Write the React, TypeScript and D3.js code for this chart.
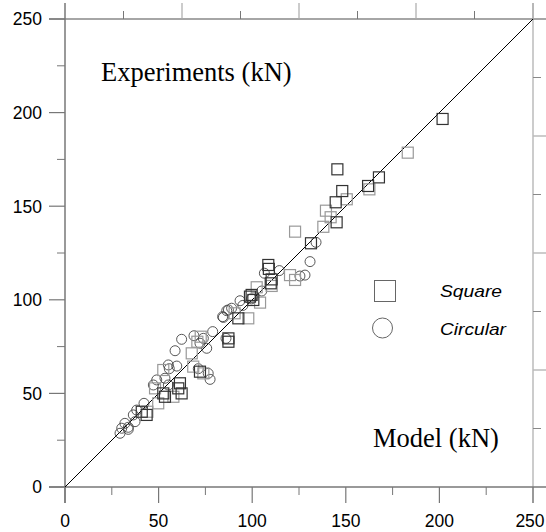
import React from "react";
import * as d3 from "d3";

const leftTicks = [0, 50, 100, 150, 200, 250];
const leftMinor = [25, 75, 125, 175, 225];
const bottomTicks = [0, 50, 100, 150, 200, 250];
const bottomMinor = [25, 75, 125, 175, 225];
const topTicks = [62.5, 125, 187.5, 250];
const topMinor = [31.25, 93.75, 156.25, 218.75];
const rightTicks = [62.5, 125, 187.5];
const rightMinor = [31.25, 93.75, 156.25, 218.75];

const squaresDark: [number, number][] = [
  [201.7, 196.6], [145.5, 169.7], [161.9, 160.8], [148.1, 158.1], [144.6, 152.1],
  [145.1, 141.4], [131.4, 130.2], [108.6, 118.6], [108.9, 116.5], [110.4, 110.9],
  [109.9, 108.8], [99.7, 102.6], [98.8, 101.7], [100.6, 99.9], [92.6, 90.1],
  [87.3, 79.4], [87.3, 77.6], [72.1, 61.6], [61.4, 55.4], [60.5, 52.7],
  [62.3, 50], [53.4, 48.2], [52.5, 50], [41, 40.2], [43.6, 38.5], [167.7, 165.4],
];
const squaresLight: [number, number][] = [
  [183.1, 178.6], [162.6, 159], [150.5, 153.7], [139.4, 147.6], [141.9, 144.1],
  [138, 139], [122.9, 136.4], [120.2, 113.2], [122.9, 110.6], [110.4, 107.4],
  [102.4, 106.7], [104.2, 98.5], [97.9, 90.1], [72.5, 80.3], [70.7, 77.6],
  [67.7, 71.4], [52.5, 62.5], [68.5, 64.3], [73.9, 60.7], [48.1, 52.7],
  [57.9, 48.2], [49.8, 44.7], [44, 40.2], [90.6, 92.8],
];
const circles: [number, number][] = [
  [134.1, 130.7], [130.9, 120.4], [106.5, 114.2], [114.5, 115.6], [125.5, 112.7],
  [128.2, 113.2], [105.1, 104.7], [93.5, 99.5], [89, 95.5], [86.4, 94.2],
  [84.6, 90.6], [78.9, 83], [86, 79.4], [73.9, 79.4], [84.2, 91], [87.3, 94.6],
  [68.9, 80.8], [62.3, 78.9], [72.1, 76.8], [75.7, 74.1], [58.8, 72.8],
  [55.2, 65.2], [59.7, 64.6], [55.7, 63.2], [53.4, 58.1], [71.2, 63.2],
  [76.5, 60.7], [77.5, 57.5], [49, 57.2], [47.2, 54.5], [55.2, 54.5],
  [42.2, 44.7], [38.3, 41.1], [36.5, 38.5], [32, 34], [37.4, 34.9],
  [33.8, 31.9], [30.3, 31.4], [29.4, 28.7], [33.8, 30.8], [99.6, 100.5], [95, 97],
];
const diagonal: [number, number][] = [[0, 0], [250, 250]];

export default function App() {
  const x = d3.scaleLinear().domain([0, 250]).range([65, 533]);
  const y = d3.scaleLinear().domain([0, 250]).range([487, 19]);
  const line = d3.line<[number, number]>().x((d) => x(d[0])).y((d) => y(d[1]));
  const sq = 11;
  const num = { fontFamily: "Liberation Sans, Arial, sans-serif", fontSize: 17.5 };
  const serif = "Liberation Serif, Times New Roman, serif";
  return (
    <svg width={546} height={532} style={{ position: "absolute", left: 0, top: 0, background: "#fff" }}>
      {/* right axis */}
      <line x1={533} x2={533} y1={3} y2={503} stroke="#ccc" strokeWidth={2} />
      {rightTicks.map((t) => (
        <line key={"rt" + t} x1={533} x2={546} y1={y(t)} y2={y(t)} stroke="#bbb" strokeWidth={1.5} />
      ))}
      {rightMinor.map((t) => (
        <line key={"rm" + t} x1={533} x2={541} y1={y(t)} y2={y(t)} stroke="#888" strokeWidth={1} />
      ))}
      {/* top axis */}
      <line x1={49} x2={546} y1={19} y2={19} stroke="#888" strokeWidth={1.5} />
      {topTicks.map((t) => (
        <line key={"tt" + t} x1={x(t)} x2={x(t)} y1={19} y2={3} stroke="#aaa" strokeWidth={1.2} />
      ))}
      {topMinor.map((t) => (
        <line key={"tm" + t} x1={x(t)} x2={x(t)} y1={19} y2={11} stroke="#777" strokeWidth={1} />
      ))}
      {/* bottom axis */}
      <line x1={49} x2={546} y1={487} y2={487} stroke="#777" strokeWidth={1.5} />
      {bottomTicks.map((t) => (
        <line key={"bt" + t} x1={x(t)} x2={x(t)} y1={487} y2={503} stroke="#777" strokeWidth={1.2} />
      ))}
      {bottomMinor.map((t) => (
        <line key={"bm" + t} x1={x(t)} x2={x(t)} y1={487} y2={495} stroke="#777" strokeWidth={1} />
      ))}
      {bottomTicks.map((t) => (
        <text key={"bl" + t} x={Math.min(x(t), 530)} y={526.5} textAnchor="middle" {...num}>{t}</text>
      ))}
      {/* left axis */}
      <line x1={65} x2={65} y1={3} y2={503} stroke="#777" strokeWidth={1.5} />
      {leftTicks.map((t) => (
        <line key={"lt" + t} x1={49} x2={65} y1={y(t)} y2={y(t)} stroke="#777" strokeWidth={1.2} />
      ))}
      {leftMinor.map((t) => (
        <line key={"lm" + t} x1={57} x2={65} y1={y(t)} y2={y(t)} stroke="#777" strokeWidth={1} />
      ))}
      {leftTicks.map((t) => (
        <text key={"ll" + t} x={42} y={y(t)} dy="0.36em" textAnchor="end" {...num}>{t}</text>
      ))}
      {/* diagonal */}
      <path d={line(diagonal) || ""} stroke="#000" strokeWidth={1} fill="none" />
      {/* data */}
      {circles.map((d, i) => (
        <circle key={"c" + i} cx={x(d[0])} cy={y(d[1])} r={5} fill="none" stroke="#444" strokeWidth={0.9} />
      ))}
      {squaresLight.map((d, i) => (
        <rect key={"sl" + i} x={x(d[0]) - sq / 2} y={y(d[1]) - sq / 2} width={sq} height={sq} fill="none" stroke="#999" strokeWidth={1.2} />
      ))}
      {squaresDark.map((d, i) => (
        <rect key={"sd" + i} x={x(d[0]) - sq / 2} y={y(d[1]) - sq / 2} width={sq} height={sq} fill="none" stroke="#333" strokeWidth={1.2} />
      ))}
      {/* labels */}
      <text x={101} y={81} fontFamily={serif} fontSize={26.5}>Experiments (kN)</text>
      <text x={373} y={447} fontFamily={serif} fontSize={26.5}>Model (kN)</text>
      {/* legend */}
      <rect x={374.5} y={280.5} width={21} height={21} fill="none" stroke="#666" strokeWidth={1} />
      <text x={440} y={297} fontFamily="Liberation Sans, Arial, sans-serif" fontSize={16.5} fontStyle="italic" textLength={62} lengthAdjust="spacingAndGlyphs">Square</text>
      <circle cx={382.5} cy={328} r={10} fill="none" stroke="#666" strokeWidth={1} />
      <text x={440} y={335} fontFamily="Liberation Sans, Arial, sans-serif" fontSize={16.5} fontStyle="italic" textLength={66} lengthAdjust="spacingAndGlyphs">Circular</text>
    </svg>
  );
}
